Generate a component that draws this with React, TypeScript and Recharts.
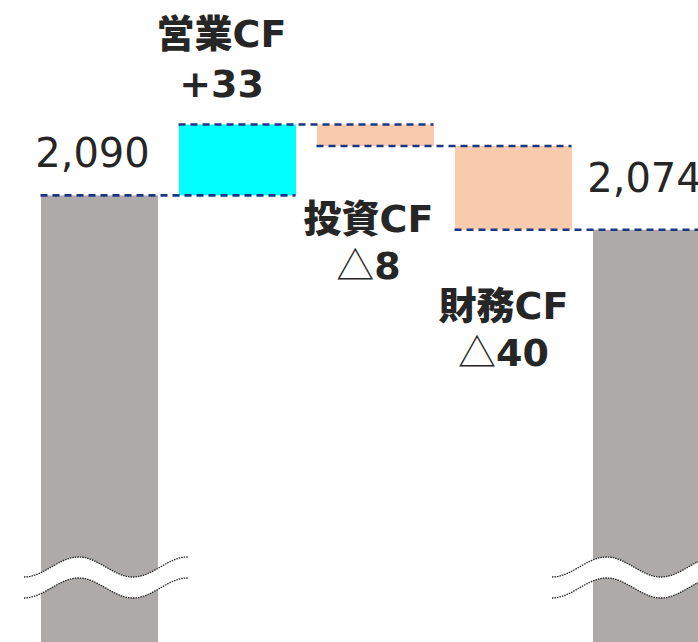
import { Bar, BarChart, LabelList, ReferenceLine, XAxis, YAxis } from "recharts";

// cash bridge: opening balance -> operating / investing / financing CF -> closing balance
const categories = ["期首残高", "営業CF", "投資CF", "財務CF", "期末残高"];
const barLow = [1882, 2090, 2113, 2074, 1882];
const barHigh = [2090, 2123, 2123, 2113, 2074];
const titles = ["", "営業CF", "投資CF", "財務CF", ""];
const amounts = ["2,090", "+33", "△8", "△40", "2,074"];
const kinds = ["total", "up", "down", "down", "total"];
const connectorLevels = [2090, 2123, 2113, 2074];

const Y_DOMAIN: [number, number] = [1882, 2181];
const BAR_SIZE = 117;
const COLORS: Record<string, string> = {
  total: "#AEAAAA",
  up: "#00FFFF",
  down: "#F8CBAD",
};
const DASH = "#1C3584";
const TEXT = "#262626";
const LATIN = "'DejaVu Sans', 'Noto Sans CJK JP', sans-serif";

// label placement per bar: dx from bar centre, baselines from bar top (total/up) or bottom (down)
const LABEL_DX = [-7, -16, -7, -10, -7];
const LABEL_DY = [[-28], [-78, -28], [86, 133], [89, 136], [-38]];
// where the axis-break squiggle starts, relative to the bar's left edge
const BREAK_DX = [-17, -41];

const data = categories.map((name, i) => ({
  name,
  range: [barLow[i], barHigh[i]],
  title: titles[i],
  amount: amounts[i],
  kind: kinds[i],
}));

function wavePoints(x0: number, cy: number, len: number) {
  const pts: string[] = [];
  for (let dx = 0; dx <= len; dx += 2) {
    pts.push(`${x0 + dx},${(cy + 10 * Math.cos((2 * Math.PI * dx) / 109)).toFixed(2)}`);
  }
  return pts;
}

function BarShape(props: any) {
  const { x, y, width, height, index } = props;
  const kind = kinds[index];
  const top = Math.min(y, y + height);
  const h = Math.abs(height);
  const rect = <rect x={x} y={top} width={width} height={h} fill={COLORS[kind]} />;
  if (kind !== "total") return rect;

  const bottom = top + h;
  const x0 = x + BREAK_DX[index === 0 ? 0 : 1];
  const upper = wavePoints(x0, bottom - 75, 164);
  const lower = wavePoints(x0, bottom - 54, 164);
  const band = `M${upper.join(" L")} L${[...lower].reverse().join(" L")} Z`;
  return (
    <g>
      {rect}
      <path d={band} fill="#fff" stroke="none" />
      <path d={`M${upper.join(" L")}`} fill="none" stroke="#222" strokeWidth={1.3} strokeDasharray="1.5 1" />
      <path d={`M${lower.join(" L")}`} fill="none" stroke="#222" strokeWidth={1.3} strokeDasharray="1.5 1" />
    </g>
  );
}

// split a title so the kanji can use the heavy CJK face and the latin part DejaVu bold
function titleParts(s: string) {
  const m = s.match(/^([^A-Za-z]*)(.*)$/);
  return m ? [m[1], m[2]] : ["", s];
}

function renderLabel(props: any) {
  const { x, y, width, height, index } = props;
  const kind = kinds[index];
  const cx = x + width / 2 + LABEL_DX[index];
  const top = Math.min(y, y + height);
  const bottom = top + Math.abs(height);
  const dy = LABEL_DY[index];

  if (kind === "total") {
    return (
      <text x={cx} y={top + dy[0]} textAnchor="middle" fontFamily={LATIN} fontSize={40} fill={TEXT}>
        {amounts[index]}
      </text>
    );
  }

  const base = kind === "up" ? top : bottom;
  const amt = amounts[index];
  const tri = amt.startsWith("△");
  const [kanji, latin] = titleParts(titles[index]);
  return (
    <g fontFamily={LATIN} fontWeight={700} fontSize={38} fill={TEXT}>
      <text x={cx} y={base + dy[0]} textAnchor="middle">
        <tspan fontFamily="'Noto Sans CJK JP'" fontWeight={900}>
          {kanji}
        </tspan>
        <tspan>{latin}</tspan>
      </text>
      <text x={cx} y={base + dy[1]} textAnchor="middle">
        {tri && (
          <tspan fontFamily="'Noto Sans CJK JP'" fontWeight={400}>
            △
          </tspan>
        )}
        <tspan>{tri ? amt.slice(1) : amt}</tspan>
      </text>
    </g>
  );
}

function Connector(props: any) {
  return (
    <line
      x1={props.x1 - BAR_SIZE / 2}
      y1={props.y1}
      x2={props.x2 + BAR_SIZE / 2}
      y2={props.y2}
      stroke={DASH}
      strokeWidth={2.6}
      strokeDasharray="7 5"
    />
  );
}

export default function App() {
  return (
    <div style={{ width: 698, height: 642, overflow: "hidden", position: "relative", background: "#fff" }}>
      <style>{"body{margin:0}"}</style>
      <BarChart
        width={720}
        height={642}
        data={data}
        margin={{ top: 0, right: 0, bottom: 0, left: 30 }}
        barSize={BAR_SIZE}
      >
        <XAxis dataKey="name" hide />
        <YAxis hide domain={Y_DOMAIN} allowDataOverflow />
        <Bar dataKey="range" shape={BarShape} isAnimationActive={false}>
          <LabelList dataKey="amount" content={renderLabel} />
        </Bar>
        {connectorLevels.map((level, i) => (
          <ReferenceLine
            key={i}
            segment={[
              { x: categories[i], y: level },
              { x: categories[i + 1], y: level },
            ]}
            shape={Connector}
            ifOverflow="visible"
          />
        ))}
      </BarChart>
    </div>
  );
}
